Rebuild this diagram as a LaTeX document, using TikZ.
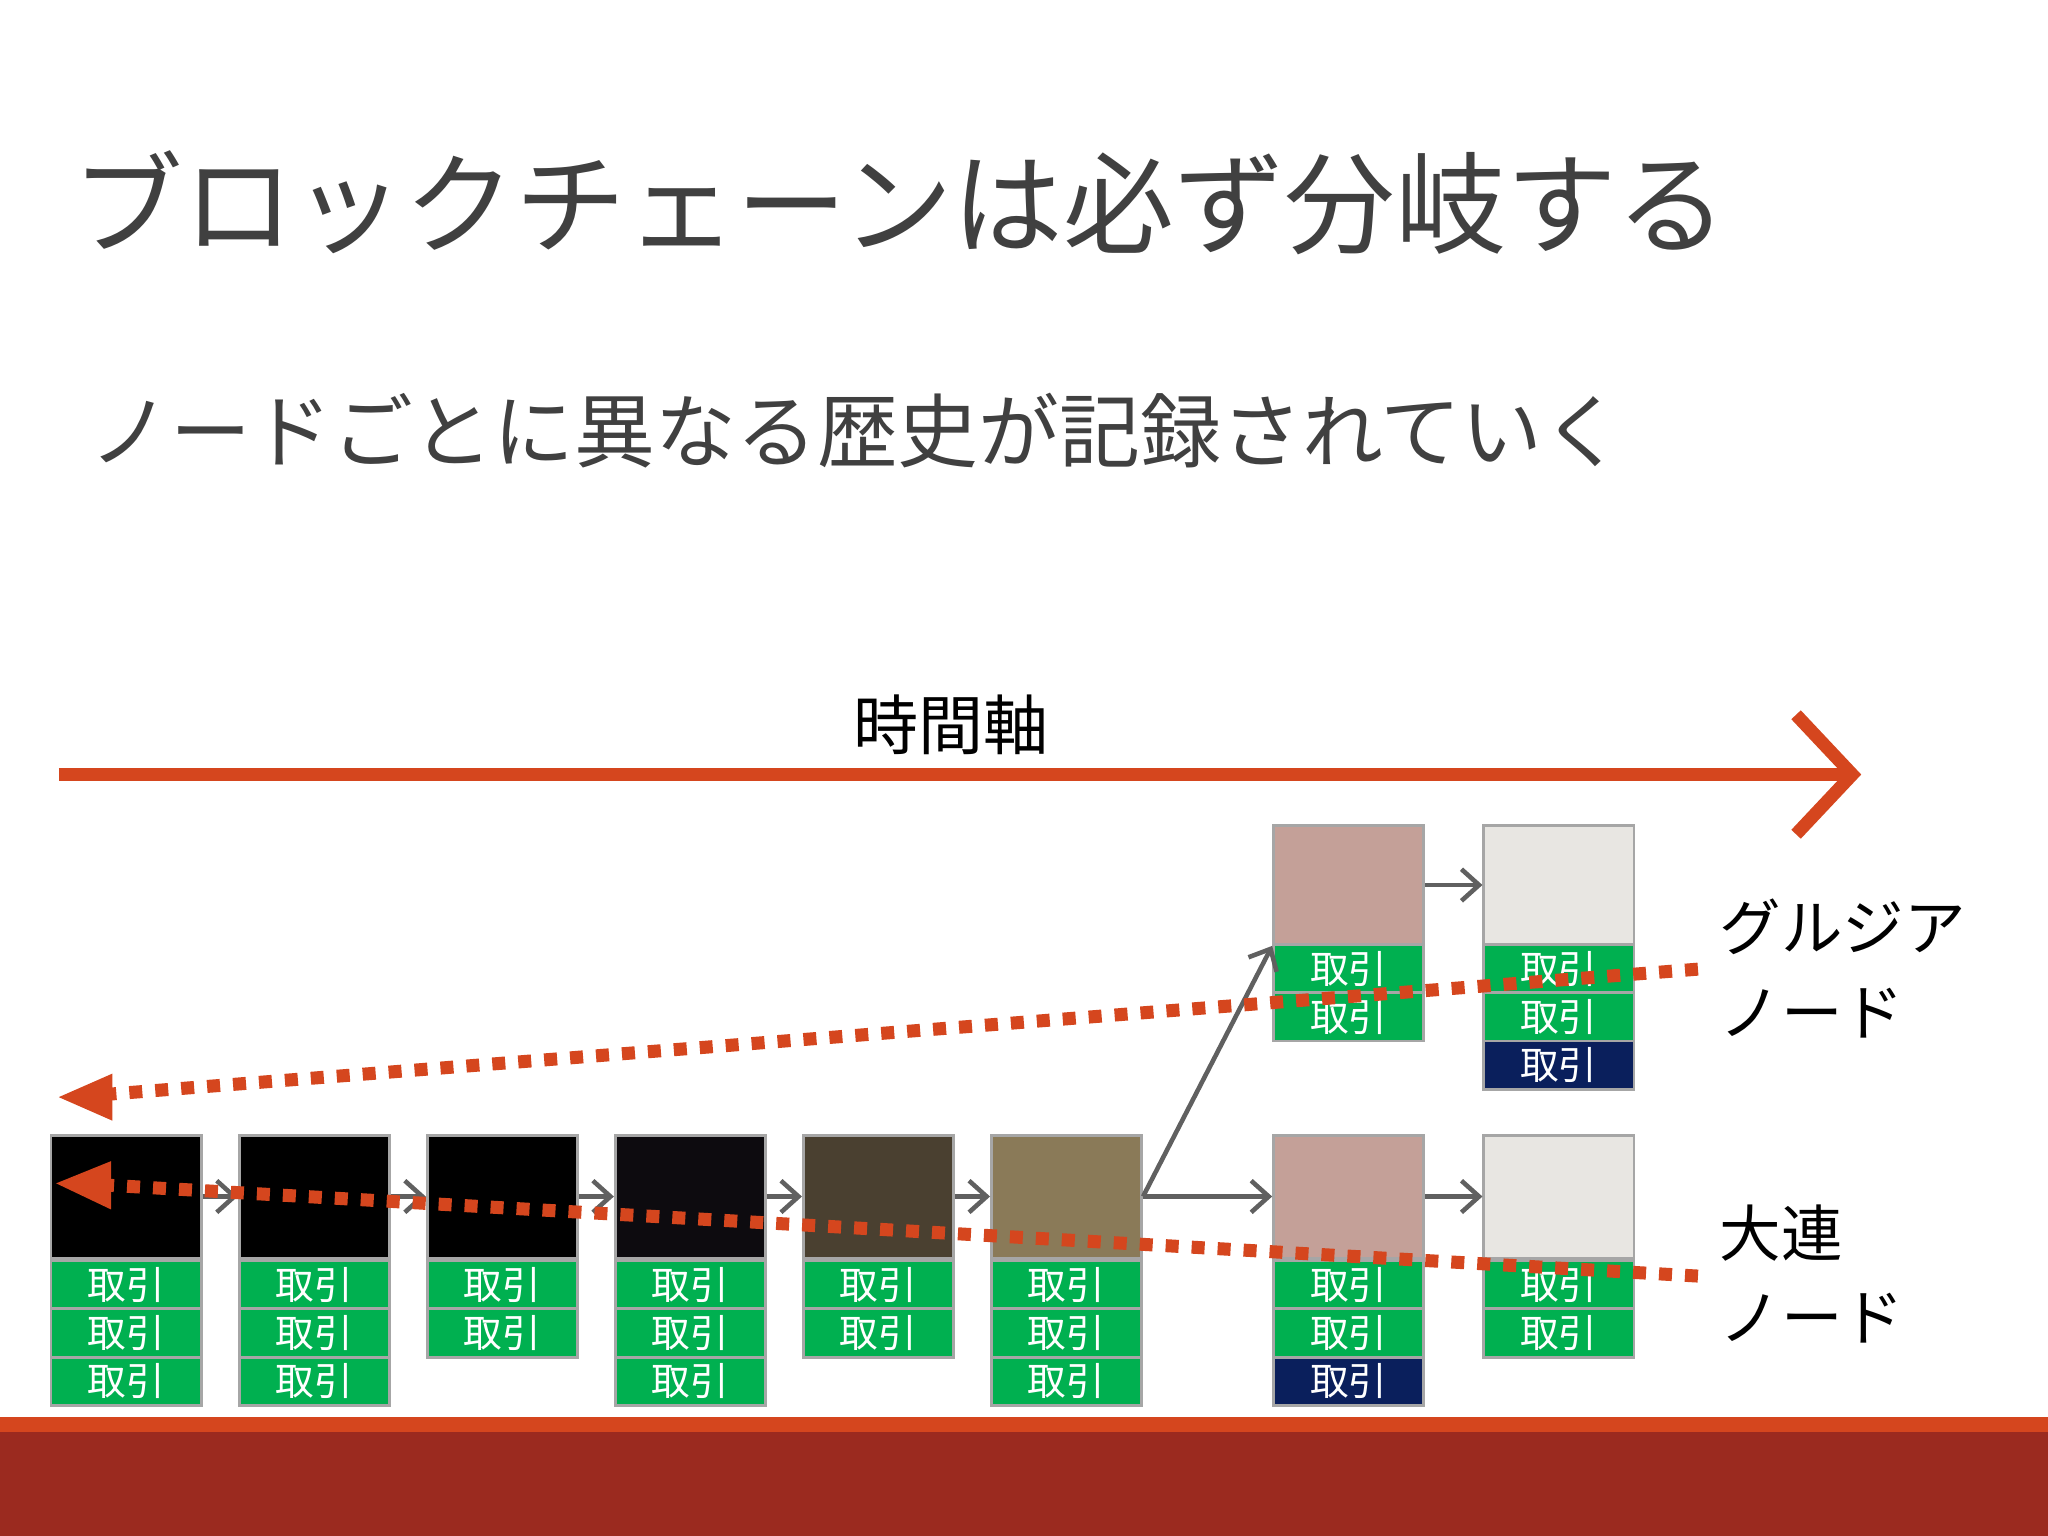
\documentclass[tikz,border=0pt]{standalone}
\usepackage{fontspec}
\setmainfont{Noto Sans CJK JP}
\usetikzlibrary{arrows.meta}
\definecolor{ttl}{HTML}{404040}
\definecolor{org}{HTML}{D5461E}
\definecolor{band}{HTML}{9B2A1F}
\definecolor{txg}{HTML}{00B050}
\definecolor{navy}{HTML}{0A1F5C}
\definecolor{hA}{HTML}{000000}
\definecolor{hB}{HTML}{0D0B0F}
\definecolor{hC}{HTML}{4A4030}
\definecolor{hD}{HTML}{8A7A58}
\definecolor{hE}{HTML}{C4A098}
\definecolor{hF}{HTML}{E8E6E2}
\definecolor{arr}{HTML}{606060}
\tikzset{
 hdr/.style={draw=gray!70, line width=0.8pt, anchor=north west, minimum width=1.502cm, inner sep=0pt},
 tx/.style={draw=gray!70, line width=0.8pt, fill=txg, anchor=north west, minimum width=1.502cm, minimum height=0.483cm, inner sep=0pt, text=white, font=\fontsize{11}{11}\selectfont},
 conn/.style={draw=arr, line width=1.3pt, -{Straight Barb[length=5pt,width=9pt]}},
 dots/.style={draw=org, line width=3.7pt, dash pattern=on 3.7pt off 3.7pt},
 lbl/.style={anchor=north west, align=left, font=\fontsize{17.5}{24}\selectfont, inner sep=0pt}
}
\begin{document}
\begin{tikzpicture}[x=0.013061cm,y=-0.013061cm]
\useasboundingbox (0,0) rectangle (1568,1176);
\fill[white] (0,0) rectangle (1568,1176);
% bottom band
\fill[org] (0,1085) rectangle (1568,1096);
\fill[band] (0,1096) rectangle (1568,1176);
% titles
\node[anchor=west, text=ttl, font=\fontsize{31.5}{32}\selectfont, inner sep=0pt] (title) at (55,155) {ブロックチェーンは必ず分岐する};
\node[anchor=west, text=ttl, font=\fontsize{23}{24}\selectfont, inner sep=0pt] (sub) at (68,330) {ノードごとに異なる歴史が記録されていく};
\node[font=\fontsize{18.5}{19}\selectfont, inner sep=0pt] (axis) at (728,555) {時間軸};
\coordinate (ax0) at (45,593);
\coordinate (ax1) at (1425,593);
\draw[org, line width=3.7pt, -{Straight Barb[length=16pt,width=34pt,line width=3.7pt]}] (ax0) -- (ax1);
% bottom blocks
\foreach \n/\x/\c/\k/\nv in {1/38/hA/3/0, 2/182/hA/3/0, 3/326/hA/2/0, 4/470/hB/3/0, 5/614/hC/2/0, 6/758/hD/3/0, 7/974/hE/3/1, 8/1135/hF/2/0}{
  \node[hdr, fill=\c, minimum height=1.228cm] (b\n) at (\x,868) {};
  \foreach \i in {1,...,\k}{
    \pgfmathtruncatemacro\isnavy{(\nv==1 && \i==\k) ? 1 : 0}
    \ifnum\isnavy=1
      \node[tx, fill=navy] (b\n t\i) at (\x,{964+37*(\i-1)}) {取引};
    \else
      \node[tx] (b\n t\i) at (\x,{964+37*(\i-1)}) {取引};
    \fi
  }
}
% top blocks
\foreach \n/\x/\c/\k/\nv in {1/974/hE/2/0, 2/1135/hF/3/1}{
  \node[hdr, fill=\c, minimum height=1.189cm] (t\n) at (\x,631) {};
  \foreach \i in {1,...,\k}{
    \pgfmathtruncatemacro\isnavy{(\nv==1 && \i==\k) ? 1 : 0}
    \ifnum\isnavy=1
      \node[tx, fill=navy] (t\n t\i) at (\x,{722+37*(\i-1)}) {取引};
    \else
      \node[tx] (t\n t\i) at (\x,{722+37*(\i-1)}) {取引};
    \fi
  }
}
% connectors
\foreach \a/\b in {b1/b2,b2/b3,b3/b4,b4/b5,b5/b6,b6/b7,b7/b8}{
  \draw[conn] (\a.east) -- (\b.west);
}
\draw[conn] (t1.east) -- (t2.west);
\draw[conn] (b6.east) -- (t1.south west);
% dotted history lines
\coordinate (g0) at (1300,742);
\coordinate (g1) at (80,838);
\coordinate (d0) at (1300,977);
\coordinate (d1) at (75,907);
\draw[dots] (g0) -- (g1);
\draw[dots] (d0) -- (d1);
\fill[org] (45,840) -- (86,822) -- (86,858) -- cycle;
\fill[org] (43,906) -- (85,889) -- (85,926) -- cycle;
% labels
\node[lbl] (lg) at (1316,688) {グルジア\\ノード};
\node[lbl] (ld) at (1316,922) {大連\\ノード};
\end{tikzpicture}
\end{document}
